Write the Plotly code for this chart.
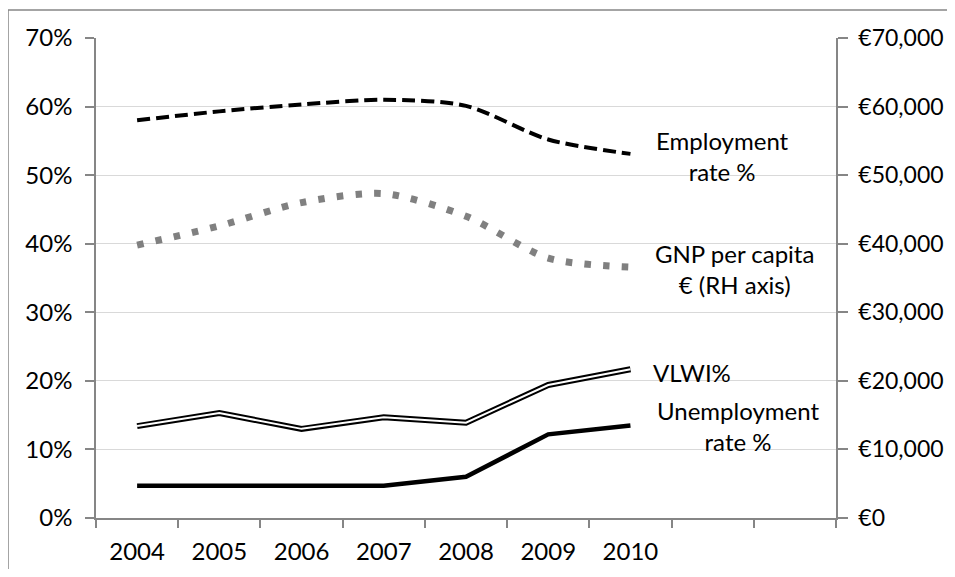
import plotly.graph_objects as go

years = ["2004", "2005", "2006", "2007", "2008", "2009", "2010"]
employment_rate = [58.0, 59.3, 60.3, 61.0, 60.1, 55.2, 53.1]      # % (left axis)
gnp_per_capita = [39800, 42600, 46000, 47300, 44000, 37900, 36600]  # € (right axis)
vlwi = [13.4, 15.3, 13.0, 14.7, 13.9, 19.4, 21.7]                  # %
unemployment_rate = [4.7, 4.7, 4.7, 4.7, 6.0, 12.2, 13.5]          # %

left_ticks = [0, 10, 20, 30, 40, 50, 60, 70]
left_labels = ["0%", "10%", "20%", "30%", "40%", "50%", "60%", "70%"]
right_ticks = [0, 10000, 20000, 30000, 40000, 50000, 60000, 70000]
right_labels = ["€0", "€10,000", "€20,000", "€30,000", "€40,000", "€50,000", "€60,000", "€70,000"]

xpos = list(range(len(years)))
FONT = "Lato"
AX = "#868686"

# page body has an 8px default margin: figure is sized/offset to compensate
OFF = 8
W, H = 955 - 2 * OFF, 577 - 2 * OFF
L, T = 96 - OFF, 38 - OFF
PW, PH = 740, 480
R, B = W - L - PW, H - T - PH

fig = go.Figure()

fig.add_trace(go.Scatter(x=xpos, y=employment_rate, mode="lines",
                         line=dict(color="black", width=4, dash="13px,6px",
                                   shape="spline", smoothing=0.8),
                         name="Employment rate %", showlegend=False))
fig.add_trace(go.Scatter(x=xpos, y=gnp_per_capita, mode="lines", yaxis="y2",
                         line=dict(color="#808080", width=7, dash="6.5px,12.2px",
                                   shape="spline", smoothing=0.8),
                         name="GNP per capita € (RH axis)", showlegend=False))
fig.add_trace(go.Scatter(x=xpos, y=vlwi, mode="lines",
                         line=dict(color="black", width=6),
                         name="VLWI%", showlegend=False))
fig.add_trace(go.Scatter(x=xpos, y=vlwi, mode="lines",
                         line=dict(color="white", width=2),
                         hoverinfo="skip", showlegend=False))
fig.add_trace(go.Scatter(x=xpos, y=unemployment_rate, mode="lines",
                         line=dict(color="black", width=4.5),
                         name="Unemployment rate %", showlegend=False))

labels = [
    ("Employment<br>rate %", 7.12, 52.8),
    ("GNP per capita<br>€ (RH axis)", 7.27, 36.3),
    ("VLWI%", 6.75, 21.2),
    ("Unemployment<br>rate %", 7.31, 13.4),
]
for txt, xa, ya in labels:
    fig.add_annotation(x=xa, y=ya, xref="x", yref="y", text=txt, showarrow=False,
                       font=dict(family=FONT, size=24, color="black"),
                       align="center", xanchor="center", yanchor="middle")

# outer chart border (cropped on right/bottom)
fig.add_shape(type="rect", xref="paper", yref="paper",
              x0=(8 - 96) / PW, x1=(975 - 96) / PW,
              y0=(518 - 600) / PH, y1=(518 - 10) / PH,
              line=dict(color=AX, width=1.5), fillcolor="rgba(0,0,0,0)", layer="below")

fig.update_layout(
    template="none",
    width=W, height=H, autosize=False,
    margin=dict(l=L, r=R, t=T, b=B, pad=0),
    paper_bgcolor="white", plot_bgcolor="white",
    font=dict(family=FONT, size=24, color="black"),
    xaxis=dict(range=[-0.5, 8.5], tickmode="array", tickvals=xpos, ticktext=years,
               ticks="", showgrid=False, zeroline=False, automargin=False,
               showline=True, linecolor=AX, linewidth=1.5,
               tickfont=dict(family=FONT, size=24, color="black"),
               ticklabelstandoff=11,
               minor=dict(tickmode="linear", tick0=-0.5, dtick=1, ticks="outside",
                          ticklen=8, tickcolor=AX, tickwidth=1.5, showgrid=False)),
    yaxis=dict(range=[0, 70], tickmode="array", tickvals=left_ticks, ticktext=left_labels,
               ticks="outside", ticklen=9, tickcolor=AX, tickwidth=1.5, automargin=False,
               showline=True, linecolor=AX, linewidth=1.5,
               showgrid=True, gridcolor="#d9d9d9", gridwidth=1.2, zeroline=False,
               tickfont=dict(family=FONT, size=24, color="black"),
               ticklabelstandoff=8),
    yaxis2=dict(range=[0, 70000], tickmode="array", tickvals=right_ticks, ticktext=right_labels,
                overlaying="y", side="right", automargin=False,
                ticks="outside", ticklen=10, tickcolor=AX, tickwidth=1.5,
                showline=True, linecolor=AX, linewidth=1.5,
                showgrid=False, zeroline=False,
                tickfont=dict(family=FONT, size=23, color="black"),
                ticklabelstandoff=6),
)

fig.write_html("out.html")
